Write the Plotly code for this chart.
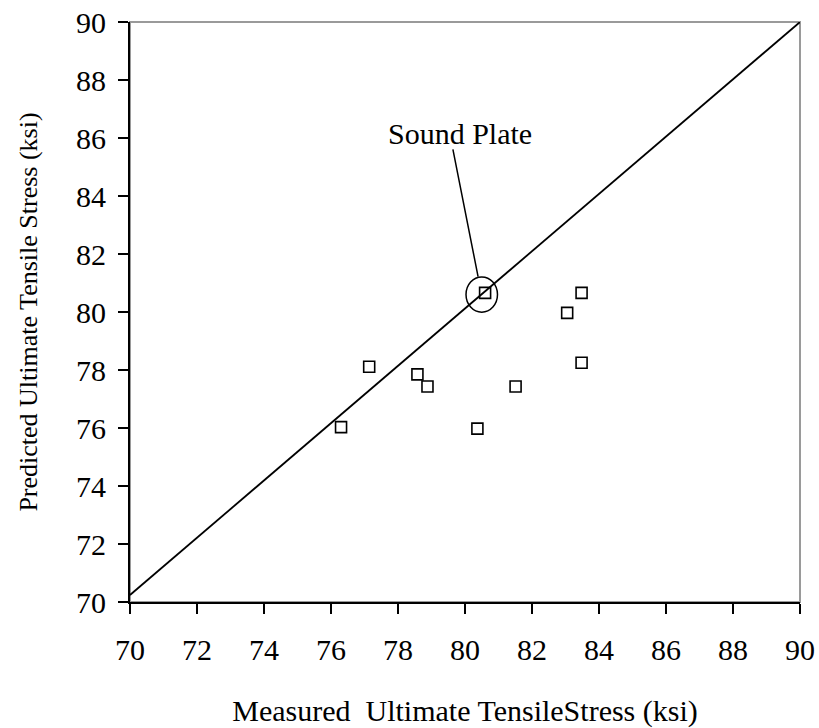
import plotly.graph_objects as go

measured = [80.6, 83.48, 83.05, 83.48, 77.14, 78.58, 78.88, 81.51, 80.37, 76.3]
predicted = [80.66, 80.66, 79.97, 78.25, 78.11, 77.85, 77.43, 77.43, 75.98, 76.03]
line_x = [70, 90]
line_y = [70.24, 90]
ticks = list(range(70, 91, 2))
circle_center = (80.5, 80.6)
circle_r = (0.47, 0.61)
label_text = "Sound Plate"
label_pos = (79.85, 86.15)
leader_start = (79.63, 85.66)
leader_end = (80.39, 81.22)

FONT = "Liberation Serif, Times New Roman, serif"

fig = go.Figure()
fig.add_trace(go.Scatter(x=line_x, y=line_y, mode="lines",
                         line=dict(color="black", width=1.8), showlegend=False, hoverinfo="skip"))
fig.add_trace(go.Scatter(x=measured, y=predicted, mode="markers",
                         marker=dict(symbol="square-open", size=11, color="black",
                                     line=dict(width=1.6, color="black")),
                         showlegend=False))

# gray frame (top/right)
fig.add_shape(type="rect", xref="paper", yref="paper", x0=0, y0=0, x1=1, y1=1,
              line=dict(color="#9a9a9a", width=2), layer="below")
# circle around sound plate
cx, cy = circle_center
rx, ry = circle_r
fig.add_shape(type="circle", xref="x", yref="y", x0=cx - rx, x1=cx + rx, y0=cy - ry, y1=cy + ry,
              line=dict(color="black", width=1.5))
fig.add_annotation(x=leader_end[0], y=leader_end[1], ax=leader_start[0], ay=leader_start[1],
                   xref="x", yref="y", axref="x", ayref="y",
                   showarrow=True, arrowhead=0, arrowwidth=1.5, arrowcolor="black", text="")
fig.add_annotation(x=label_pos[0], y=label_pos[1], xref="x", yref="y", text=label_text,
                   showarrow=False, font=dict(family=FONT, size=30, color="black"))

axis_common = dict(range=[70, 90], tickvals=ticks, ticks="outside", ticklen=10, tickwidth=1.5,
                   tickcolor="black", showline=True, linecolor="black", linewidth=2,
                   showgrid=False, zeroline=False, mirror=False, automargin=False,
                   tickfont=dict(family=FONT, size=30, color="black"))
fig.update_xaxes(**axis_common, ticklabelstandoff=10,
                 title=dict(text="Measured\u00a0\u00a0Ultimate TensileStress (ksi)",
                            font=dict(family=FONT, size=30, color="black"), standoff=39))
fig.update_yaxes(**axis_common, ticklabelstandoff=6,
                 title=dict(text="Predicted Ultimate Tensile Stress (ksi)",
                            font=dict(family=FONT, size=26, color="black"), standoff=31))

fig.update_layout(width=819, height=728, margin=dict(l=130, r=19, t=22, b=126),
                  plot_bgcolor="white", paper_bgcolor="white")
fig.write_html("out.html")
